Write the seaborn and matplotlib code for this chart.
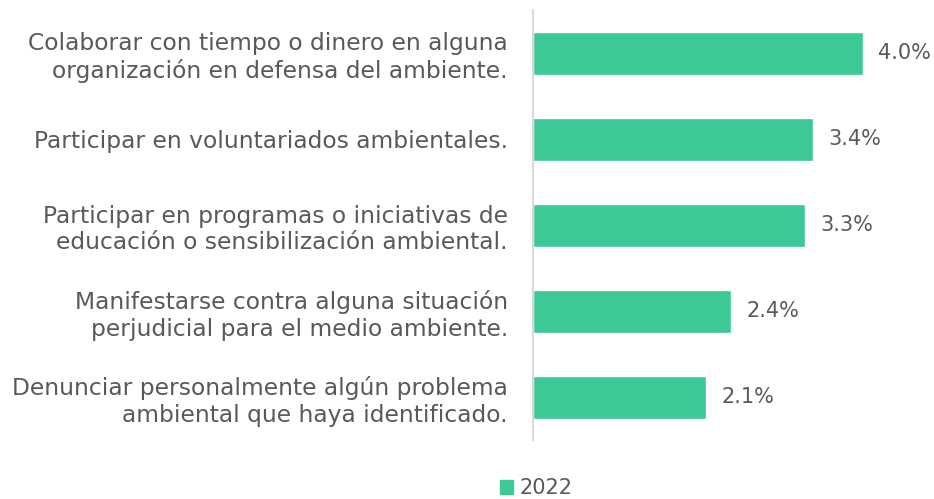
import matplotlib
matplotlib.use("Agg")
import matplotlib.pyplot as plt
import seaborn as sns
import pandas as pd
from matplotlib.patches import Patch

categories = [
    "Colaborar con tiempo o dinero en alguna\norganización en defensa del ambiente.",
    "Participar en voluntariados ambientales.",
    "Participar en programas o iniciativas de\neducación o sensibilización ambiental.",
    "Manifestarse contra alguna situación\nperjudicial para el medio ambiente.",
    "Denunciar personalmente algún problema\nambiental que haya identificado.",
]
values = [4.0, 3.4, 3.3, 2.4, 2.1]
series_name = "2022"

BAR = "#3DC996"
TXT = "#595959"

sns.set_theme(style="white")
plt.rcParams['font.family'] = ['DejaVu Sans']

df = pd.DataFrame({"cat": categories, "val": values, "year": series_name})

fig = plt.figure(figsize=(9.34, 4.99), dpi=100)
ax = fig.add_axes([533/934, 1-440/499, (925-533)/934, 430/499])
sns.barplot(data=df, x="val", y="cat", color=BAR, width=0.5, ax=ax, saturation=1)
ax.set_xlim(0, (925-533)/82.5)
ax.set_ylim(4.5, -0.5)
ax.set_xlabel("")
ax.set_ylabel("")
ax.set_xticks([])
for s in ["top", "right", "bottom"]:
    ax.spines[s].set_visible(False)
ax.spines["left"].set_color("#D9D9D9")
ax.spines["left"].set_linewidth(1.5)
ax.tick_params(axis="y", length=0, pad=18, labelsize=16.8, labelcolor=TXT)
for lab in ax.get_yticklabels():
    lab.set_horizontalalignment("right")
    lab.set_multialignment("right")
    lab.set_linespacing(1.2)

for c in ax.containers:
    ax.bar_label(c, labels=[f"{v:.1f}%" for v in values], padding=11, fontsize=15, color=TXT)

fig.legend(handles=[Patch(color=BAR, label=series_name)], loc="center", bbox_to_anchor=(536/934, 1-488/499),
           frameon=False, fontsize=15, labelcolor=TXT, handlelength=0.65, handleheight=0.65, handletextpad=0.3)

fig.savefig("out.png", dpi=100, facecolor="white")
